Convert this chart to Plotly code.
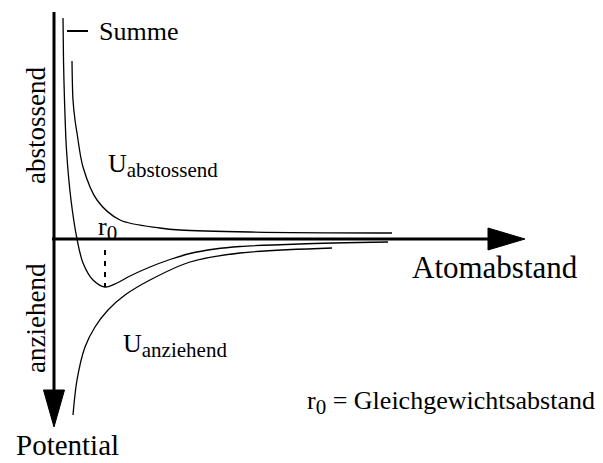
import plotly.graph_objects as go

# ---- data (arbitrary units: r = atomic distance, U = potential) ----
r_summe = [0.9, 0.95, 1.05, 1.25, 1.7, 2.3, 2.9, 3.9, 5.1, 6.3, 7.6, 9.6, 11.6, 13.6, 16.1, 18.6, 24.6, 33.4]
u_summe = [22.1, 17.9, 13.9, 8.9, 3.9, 0.0, -2.4, -4.1, -4.8, -4.4, -3.7, -2.8, -2.05, -1.45, -1.0, -0.75, -0.5, -0.3]

r_abst = [1.8, 1.9, 2.1, 2.3, 2.9, 4.3, 6.6, 10.6, 12.6, 19.6, 33.8]
u_abst = [17.8, 13.9, 11.9, 10.6, 7.2, 3.9, 1.9, 1.1, 0.9, 0.7, 0.6]

r_anz = [1.9, 2.3, 3.1, 4.1, 5.4, 7.1, 9.6, 13.6, 18.6, 27.8]
u_anz = [-17.6, -14.1, -10.8, -8.8, -7.1, -5.6, -4.1, -2.3, -1.4, -0.9]

r0 = 5.1
u_min = -4.8

# ---- layout helpers (reference pixel -> data) ----
PAGE_OFF = 8            # default body margin of the html page
W, H = 603 - PAGE_OFF, 463 - PAGE_OFF
OX, OY, S = 54, 239, 10.0
def X(px):
    return (px - OX) / S
def Y(py):
    return (OY - py) / S

FONT = "Liberation Serif, Times New Roman, serif"
line_style = dict(color="black", width=1.3, shape="spline", smoothing=0.9)

fig = go.Figure()
for rx, uy, nm in [(r_summe, u_summe, "Summe"), (r_abst, u_abst, "U abstossend"), (r_anz, u_anz, "U anziehend")]:
    fig.add_trace(go.Scatter(x=rx, y=uy, mode="lines", line=line_style, name=nm,
                             showlegend=False, hoverinfo="skip"))

shapes = []
# horizontal axis (Atomabstand)
shapes.append(dict(type="line", x0=X(52), x1=X(490), y0=0, y1=0, line=dict(color="black", width=3)))
shapes.append(dict(type="path", path=f"M {X(488)} {Y(228)} L {X(525)} 0 L {X(488)} {Y(250)} Z",
                   fillcolor="black", line=dict(color="black", width=1)))
# vertical axis (Potential, pointing down)
shapes.append(dict(type="line", x0=0, x1=0, y0=Y(12), y1=Y(392), line=dict(color="black", width=3)))
shapes.append(dict(type="path", path=f"M {X(43.5)} {Y(390)} L 0 {Y(427)} L {X(64.5)} {Y(390)} Z",
                   fillcolor="black", line=dict(color="black", width=1)))
# r0 dashed marker
shapes.append(dict(type="line", x0=r0, x1=r0, y0=Y(250), y1=u_min, line=dict(color="black", width=2, dash="5px,6px")))
# legend line for Summe
shapes.append(dict(type="line", x0=X(67), x1=X(88), y0=Y(31), y1=Y(31), line=dict(color="black", width=2)))

ann = []
def txt(t, px, py, size, xa="left", ya="middle", angle=0):
    ann.append(dict(text=t, x=X(px), y=Y(py), xref="x", yref="y", showarrow=False,
                    xanchor=xa, yanchor=ya, textangle=angle,
                    font=dict(family=FONT, size=size, color="black")))

SUB = '<sub><span style="font-size:21px">{}</span></sub>'
txt("Summe", 97, 31, 26)
txt("U" + SUB.format("abstossend"), 106, 165, 26)
txt("U" + SUB.format("anziehend"), 121, 345, 26)
txt("r" + SUB.format("0"), 96, 228, 26)
txt("Atomabstand", 410, 267, 31)
txt("Potential", 14, 462.5, 29, ya="bottom")
txt("r" + SUB.format("0") + " = Gleichgewichtsabstand", 305, 402, 26)
txt("abstossend", 36, 126, 27, xa="center", angle=-90)
txt("anziehend", 36, 318, 27, xa="center", angle=-90)

fig.update_layout(
    width=W, height=H, margin=dict(l=0, r=0, t=0, b=0),
    paper_bgcolor="white", plot_bgcolor="white",
    xaxis=dict(range=[X(PAGE_OFF), X(603)], visible=False, fixedrange=True),
    yaxis=dict(range=[Y(463), Y(PAGE_OFF)], visible=False, fixedrange=True),
    shapes=shapes, annotations=ann, showlegend=False,
)
fig.write_html("out.html")
